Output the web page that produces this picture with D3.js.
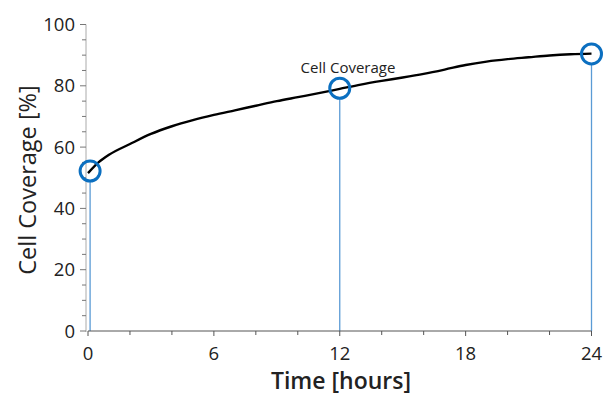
<!DOCTYPE html>
<html><head><meta charset="utf-8">
<script src="https://cdn.jsdelivr.net/npm/d3@7"></script>
<style>body{margin:0;background:#fff}svg{display:block}</style>
</head><body>
<script>
const hours = [0,0.5,1,2,3,4,5,6,7,8,9,10,11,12,13,14,15,16,17,18,19,20,21,22,23,24];
const coverage = [51.5,55,57.5,61,64.3,66.8,68.8,70.5,72,73.5,75,76.3,77.6,79,80.4,81.6,82.7,83.9,85.3,86.8,87.9,88.7,89.3,89.9,90.3,90.5];
const markerHours = [0.1,12,24];
const markerValues = [52.2,79.2,90.4];
const xTicks = [0,6,12,18,24];
const yTicks = [0,20,40,60,80,100];
const seriesLabel = "Cell Coverage";

const W=607,H=397;
const svg=d3.select("body").append("svg").attr("width",W).attr("height",H);
const x=d3.scaleLinear().domain([0,24]).range([88,591.5]);
const y=d3.scaleLinear().domain([0,100]).range([331,24.5]);
const font="Open Sans, Noto Sans, sans-serif";

// drop lines
svg.append("g").selectAll("line").data(markerHours).join("line")
 .attr("x1",d=>x(d)).attr("x2",d=>x(d))
 .attr("y1",(d,i)=>y(markerValues[i])+10).attr("y2",y(0))
 .attr("stroke","#5b9bd5").attr("stroke-width",1.3);

// y axis
const ya=svg.append("g").attr("transform","translate(86,0)");
ya.append("line").attr("x1",0).attr("x2",0).attr("y1",y(100)).attr("y2",y(0)+1).attr("stroke","#aaa").attr("stroke-width",1);
ya.selectAll(".mn").data(d3.range(0,101,5)).join("line")
 .attr("x1",d=>yTicks.includes(d)?-6:-4).attr("x2",0)
 .attr("y1",d=>y(d)).attr("y2",d=>y(d)).attr("stroke","#777");
ya.selectAll("text").data(yTicks).join("text")
 .attr("x",-11).attr("y",d=>y(d)).attr("dy","0.36em").attr("text-anchor","end")
 .attr("font-family",font).attr("font-size",18.5).attr("fill","#222").text(d=>d);

// x axis
const xa=svg.append("g").attr("transform","translate(0,331)");
xa.append("line").attr("x1",x(0)).attr("x2",x(24)).attr("stroke","#555").attr("stroke-width",1);
xa.selectAll(".mn").data(d3.range(0,25,2)).join("line")
 .attr("x1",d=>x(d)).attr("x2",d=>x(d)).attr("y1",0).attr("y2",d=>xTicks.includes(d)?5:4).attr("stroke","#555");
xa.selectAll("text").data(xTicks).join("text")
 .attr("x",d=>x(d)).attr("y",29).attr("text-anchor","middle")
 .attr("font-family",font).attr("font-size",18.5).attr("fill","#222").text(d=>d);

// curve
const data=hours.map((h,i)=>[h,coverage[i]]);
svg.append("path").datum(data)
 .attr("d",d3.line().x(d=>x(d[0])).y(d=>y(d[1])).curve(d3.curveMonotoneX))
 .attr("fill","none").attr("stroke","#000").attr("stroke-width",2.4);

// markers
svg.append("g").selectAll("circle").data(markerHours).join("circle")
 .attr("cx",d=>x(d)).attr("cy",(d,i)=>y(markerValues[i])).attr("r",10)
 .attr("fill","none").attr("stroke","#0b6fc0").attr("stroke-width",3);

svg.append("text").attr("x",348).attr("y",73).attr("text-anchor","middle")
 .attr("font-family",font).attr("font-size",15).attr("fill","#222").text(seriesLabel);

// titles
svg.append("text").attr("transform","translate(36,180) rotate(-90)").attr("text-anchor","middle")
 .attr("font-family",font).attr("font-size",23.5).attr("fill","#222").text("Cell Coverage [%]");
svg.append("text").attr("x",341).attr("y",389).attr("text-anchor","middle")
 .attr("font-family",font).attr("font-size",23).attr("font-weight",600).attr("fill","#222").text("Time [hours]");
</script>
</body></html>
